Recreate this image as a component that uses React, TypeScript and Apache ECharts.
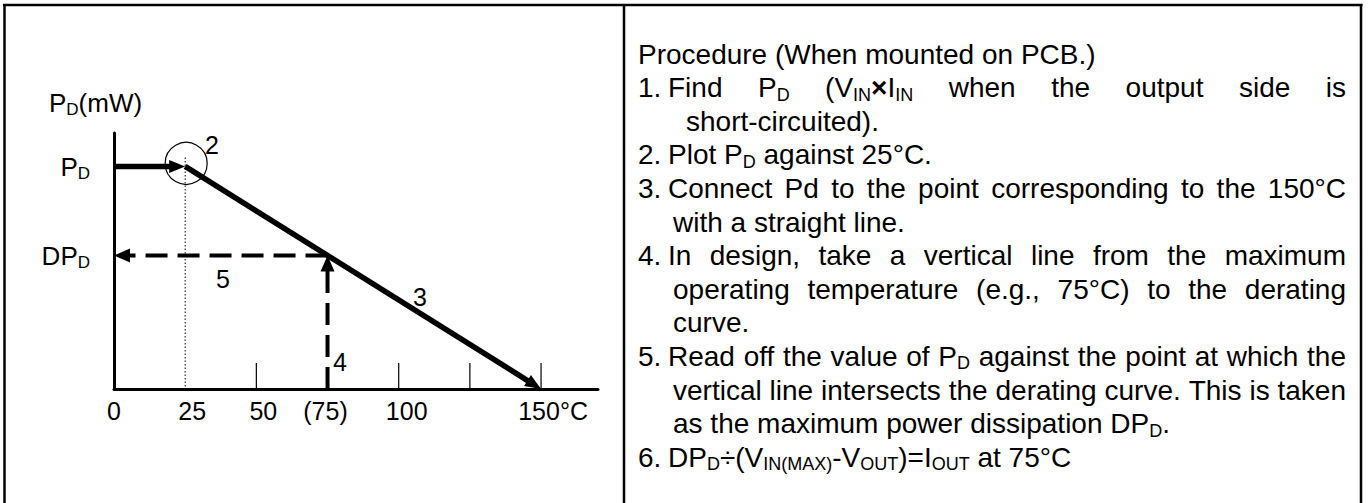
import React, { useEffect, useRef } from "react";
import * as echarts from "echarts";

// ---------- data ----------
const PD_MW = 100; // rated dissipation (relative)
const DPD_MW = 60; // derated dissipation at design temperature
const T_ROOM = 25;
const T_DESIGN = 75;
const T_MAX = 150;
const GUIDE_TOP = 104;
const X_MAX = 170;
const Y_MAX = 115;

const X_TICK_VALUES = [0, 25, 50, 75, 100, 125, 150];
const X_TICK_LABELS = ["0", "25", "50", "(75)", "100", "", "150°C"];
const MINOR_TICKS = [50, 100, 125, 150];

const SOLID_ARROWS = [
  [0, PD_MW, T_ROOM, PD_MW],
  [T_ROOM, PD_MW, T_MAX, 0],
];
const DASHED_ARROWS = [
  [T_DESIGN, 0, T_DESIGN, DPD_MW],
  [T_DESIGN, DPD_MW, 0, DPD_MW],
];
const GUIDE_LINE = [[T_ROOM, GUIDE_TOP, T_ROOM, 0]];
const CIRCLE_POINT = [[T_ROOM, PD_MW]];

const STEP_MARKS = ["2", "3", "4", "5"];
const STEP_MARK_X = [34.4, 107.5, 79.4, 38.3];
const STEP_MARK_Y = [109.6, 41.3, 12.1, 49.4];

const Y_LEVEL_LABELS = ["P_{D}", "DP_{D}"];
const Y_LEVEL_VALUES = [PD_MW, DPD_MW];
const Y_NAME = "P_{D}(mW)";

const PROCEDURE_LINES = [
  "Procedure (When mounted on PCB.)",
  "1.|Find P_{D} (V_{IN}*×*I_{IN} when the output side is",
  "short-circuited).",
  "2.|Plot P_{D} against 25°C.",
  "3.|Connect Pd to the point corresponding to the 150°C",
  "with a straight line.",
  "4.|In design, take a vertical line from the maximum",
  "operating temperature (e.g., 75°C) to the derating",
  "curve.",
  "5.|Read off the value of P_{D} against the point at which the",
  "vertical line intersects the derating curve. This is taken",
  "as the maximum power dissipation DP_{D}.",
  "6.|DP_{D}÷(V_{IN(MAX)}-V_{OUT})=I_{OUT} at 75°C",
];
// kind: h = heading, n = numbered, c = continuation, c2 = deeper continuation
const LINE_KIND = ["h", "n", "c2", "n", "n", "c", "n", "c", "c", "n", "c", "c", "n"];
const LINE_JUSTIFY = [false, true, false, false, true, false, true, true, false, true, true, false, false];

// ---------- layout / styles ----------
const FONT = "Liberation Sans";
const TEXT_SIZE = 28;
const TEXT_SUB_DY = 7;
const ROW0 = 54;
const ROW_STEP = 33.6;
const NUM_X = 638;
const ITEM_X = 668;
const CONT_X = 673;
const CONT2_X = 686;
const RIGHT_X = 1346;
const CHART_SIZE = 26;
const CHART_SUB_DY = 6;
const LABEL_SHIFT = [0, 7, 7, -2, 8, 0, 12];

type Seg = { t: string; sub: boolean; bold?: boolean };

let mctx: CanvasRenderingContext2D | null = null;
function measure(t: string, size: number, bold?: boolean): number {
  if (!mctx) mctx = document.createElement("canvas").getContext("2d");
  mctx!.font = `${bold ? "bold " : ""}${size}px "${FONT}"`;
  return mctx!.measureText(t).width;
}

function parse(s: string): Seg[] {
  const out: Seg[] = [];
  const re = /_\{([^}]*)\}|\*([^*]*)\*/g;
  let last = 0;
  let m: RegExpExecArray | null;
  while ((m = re.exec(s))) {
    if (m.index > last) out.push({ t: s.slice(last, m.index), sub: false });
    if (m[1] !== undefined) out.push({ t: m[1], sub: true });
    else out.push({ t: m[2], sub: false, bold: true });
    last = re.lastIndex;
  }
  if (last < s.length) out.push({ t: s.slice(last), sub: false });
  return out;
}

const subSize = (size: number) => Math.round(size * 0.65);

function segsWidth(segs: Seg[], size: number): number {
  return segs.reduce((w, s) => w + measure(s.t, s.sub ? subSize(size) : size, s.bold), 0);
}

function segEls(segs: Seg[], x: number, y: number, size: number, subDy: number): any[] {
  const els: any[] = [];
  let cx = x;
  for (const s of segs) {
    const fs = s.sub ? subSize(size) : size;
    els.push({
      type: "text",
      x: cx,
      y: s.sub ? y + subDy : y,
      silent: true,
      style: {
        text: s.t,
        fill: "#000",
        fontSize: fs,
        fontFamily: FONT,
        fontWeight: s.bold ? "bold" : "normal",
        align: "left",
        verticalAlign: "middle",
      },
    });
    cx += measure(s.t, fs, s.bold);
  }
  return els;
}

function wordsEls(
  text: string,
  x: number,
  y: number,
  size: number,
  subDy: number,
  justifyTo?: number
): any[] {
  const words = text.split(" ").map(parse);
  const widths = words.map((w) => segsWidth(w, size));
  const total = widths.reduce((a, b) => a + b, 0);
  let gap = measure(" ", size);
  if (justifyTo !== undefined && words.length > 1) gap = (justifyTo - x - total) / (words.length - 1);
  const els: any[] = [];
  let cx = x;
  words.forEach((w, i) => {
    els.push(...segEls(w, cx, y, size, subDy));
    cx += widths[i] + gap;
  });
  return els;
}

function textWidth(text: string, size: number): number {
  const words = text.split(" ").map(parse);
  return (
    words.reduce((a, w) => a + segsWidth(w, size), 0) + measure(" ", size) * (words.length - 1)
  );
}

function procedureElements(): any[] {
  const els: any[] = [];
  PROCEDURE_LINES.forEach((line, i) => {
    const y = ROW0 + ROW_STEP * i;
    const kind = LINE_KIND[i];
    const just = LINE_JUSTIFY[i] ? RIGHT_X : undefined;
    if (kind === "n") {
      const [num, rest] = line.split("|");
      els.push(...wordsEls(num, NUM_X, y, TEXT_SIZE, TEXT_SUB_DY));
      els.push(...wordsEls(rest, ITEM_X, y, TEXT_SIZE, TEXT_SUB_DY, just));
    } else {
      const x = kind === "h" ? NUM_X : kind === "c2" ? CONT2_X : CONT_X;
      els.push(...wordsEls(line, x, y, TEXT_SIZE, TEXT_SUB_DY, just));
    }
  });
  return els;
}

function frameElements(): any[] {
  const st = { stroke: "#000", lineWidth: 2.5 };
  return [
    { type: "line", shape: { x1: 3, y1: 5, x2: 1362.5, y2: 5 }, style: st },
    { type: "line", shape: { x1: 4.5, y1: 4, x2: 4.5, y2: 503 }, style: st },
    { type: "line", shape: { x1: 1361, y1: 4, x2: 1361, y2: 503 }, style: st },
    { type: "line", shape: { x1: 624, y1: 4, x2: 624, y2: 503 }, style: st },
  ];
}

function arrowSeries(data: number[][], dashed: boolean) {
  const len = dashed ? 16 : 16;
  const half = dashed ? 7 : 6.5;
  const lw = dashed ? 4 : 5.5;
  return {
    type: "custom",
    coordinateSystem: "cartesian2d",
    data,
    clip: false,
    silent: true,
    z: 5,
    renderItem: (_p: any, api: any) => {
      const a = api.coord([api.value(0), api.value(1)]);
      const b = api.coord([api.value(2), api.value(3)]);
      const dx = b[0] - a[0];
      const dy = b[1] - a[1];
      const L = Math.hypot(dx, dy);
      const ux = dx / L;
      const uy = dy / L;
      const bx = b[0] - ux * len;
      const by = b[1] - uy * len;
      return {
        type: "group",
        children: [
          {
            type: "polyline",
            shape: { points: [a, [bx + ux * 1, by + uy * 1]] },
            style: {
              stroke: "#000",
              lineWidth: lw,
              lineDash: dashed ? [22, 10] : null,
              lineCap: "butt",
              fill: "none",
            },
          },
          {
            type: "polygon",
            shape: {
              points: [
                [b[0], b[1]],
                [bx - uy * half, by + ux * half],
                [bx + uy * half, by - ux * half],
              ],
            },
            style: { fill: "#000" },
          },
        ],
      };
    },
  };
}

function buildOption(): any {
  const rich: any = {};
  LABEL_SHIFT.forEach((d, i) => {
    rich["s" + i] = {
      fontSize: 25,
      fontFamily: FONT,
      color: "#000",
      padding: d >= 0 ? [0, 0, 0, 2 * d] : [0, -2 * d, 0, 0],
    };
  });

  return {
    animation: false,
    backgroundColor: "#fff",
    grid: { left: 114, right: 770, top: 133, bottom: 114, containLabel: false, outerBoundsMode: "none" },
    xAxis: {
      type: "value",
      min: 0,
      max: X_MAX,
      interval: 25,
      axisLine: { show: true, onZero: false, lineStyle: { color: "#000", width: 3 } },
      axisTick: { show: false },
      splitLine: { show: false },
      axisLabel: {
        show: true,
        margin: 9,
        fontSize: 25,
        fontFamily: FONT,
        color: "#000",
        showMaxLabel: false,
        formatter: (v: number) => {
          const i = X_TICK_VALUES.indexOf(v);
          if (i < 0 || !X_TICK_LABELS[i]) return "";
          return `{s${i}|${X_TICK_LABELS[i]}}`;
        },
        rich,
      },
    },
    yAxis: {
      type: "value",
      min: 0,
      max: Y_MAX,
      axisLine: { show: true, onZero: false, lineStyle: { color: "#000", width: 3 } },
      axisTick: { show: false },
      axisLabel: { show: false },
      splitLine: { show: false },
    },
    graphic: { elements: [...frameElements(), ...procedureElements()] },
    series: [
      // minor ticks
      {
        type: "custom",
        coordinateSystem: "cartesian2d",
        data: MINOR_TICKS.map((v) => [v, 0]),
        silent: true,
        clip: false,
        z: 3,
        renderItem: (_p: any, api: any) => {
          const p = api.coord([api.value(0), 0]);
          return {
            type: "line",
            shape: { x1: p[0], y1: p[1], x2: p[0], y2: p[1] - 26 },
            style: { stroke: "#000", lineWidth: 1.2 },
          };
        },
      },
      // dotted guide at 25°C
      {
        type: "custom",
        coordinateSystem: "cartesian2d",
        data: GUIDE_LINE,
        silent: true,
        clip: false,
        z: 3,
        renderItem: (_p: any, api: any) => {
          const a = api.coord([api.value(0), api.value(1)]);
          const b = api.coord([api.value(2), api.value(3)]);
          return {
            type: "line",
            shape: { x1: a[0], y1: a[1], x2: b[0], y2: b[1] },
            style: { stroke: "#000", lineWidth: 1, lineDash: [1.5, 2] },
          };
        },
      },
      // circle around PD at 25°C
      {
        type: "custom",
        coordinateSystem: "cartesian2d",
        data: CIRCLE_POINT,
        silent: true,
        clip: false,
        z: 4,
        renderItem: (_p: any, api: any) => {
          const p = api.coord([api.value(0), api.value(1)]);
          return {
            type: "circle",
            shape: { cx: p[0] + 1, cy: p[1] - 3, r: 21 },
            style: { stroke: "#000", lineWidth: 1.2, fill: "none" },
          };
        },
      },
      arrowSeries(SOLID_ARROWS, false),
      arrowSeries(DASHED_ARROWS, true),
      // step numbers
      {
        type: "custom",
        coordinateSystem: "cartesian2d",
        data: STEP_MARK_X.map((x, i) => [x, STEP_MARK_Y[i]]),
        silent: true,
        clip: false,
        z: 6,
        renderItem: (p: any, api: any) => {
          const c = api.coord([api.value(0), api.value(1)]);
          return {
            type: "text",
            x: c[0],
            y: c[1],
            style: {
              text: STEP_MARKS[p.dataIndex],
              fill: "#000",
              fontSize: 25,
              fontFamily: FONT,
              align: "center",
              verticalAlign: "middle",
            },
          };
        },
      },
      // level labels PD / DPD
      {
        type: "custom",
        coordinateSystem: "cartesian2d",
        data: Y_LEVEL_VALUES.map((v) => [0, v]),
        silent: true,
        clip: false,
        z: 6,
        renderItem: (p: any, api: any) => {
          const c = api.coord([0, api.value(1)]);
          const label = Y_LEVEL_LABELS[p.dataIndex];
          const w = textWidth(label, CHART_SIZE);
          return {
            type: "group",
            children: wordsEls(label, c[0] - 24 - w, c[1] + 1, CHART_SIZE, CHART_SUB_DY),
          };
        },
      },
      // axis name
      {
        type: "custom",
        coordinateSystem: "cartesian2d",
        data: [[0, Y_MAX]],
        silent: true,
        clip: false,
        z: 6,
        renderItem: (_p: any, api: any) => {
          const c = api.coord([0, api.value(1)]);
          return {
            type: "group",
            children: wordsEls(Y_NAME, c[0] - 65, c[1] - 30, CHART_SIZE, CHART_SUB_DY),
          };
        },
      },
    ],
  };
}

export default function App() {
  const ref = useRef<HTMLDivElement>(null);
  useEffect(() => {
    if (!ref.current) return;
    const chart = echarts.init(ref.current, null, { renderer: "svg" });
    chart.setOption(buildOption());
    return () => chart.dispose();
  }, []);
  return (
    <div
      ref={ref}
      style={{ position: "absolute", left: 0, top: 0, width: 1368, height: 503, background: "#fff" }}
    />
  );
}
